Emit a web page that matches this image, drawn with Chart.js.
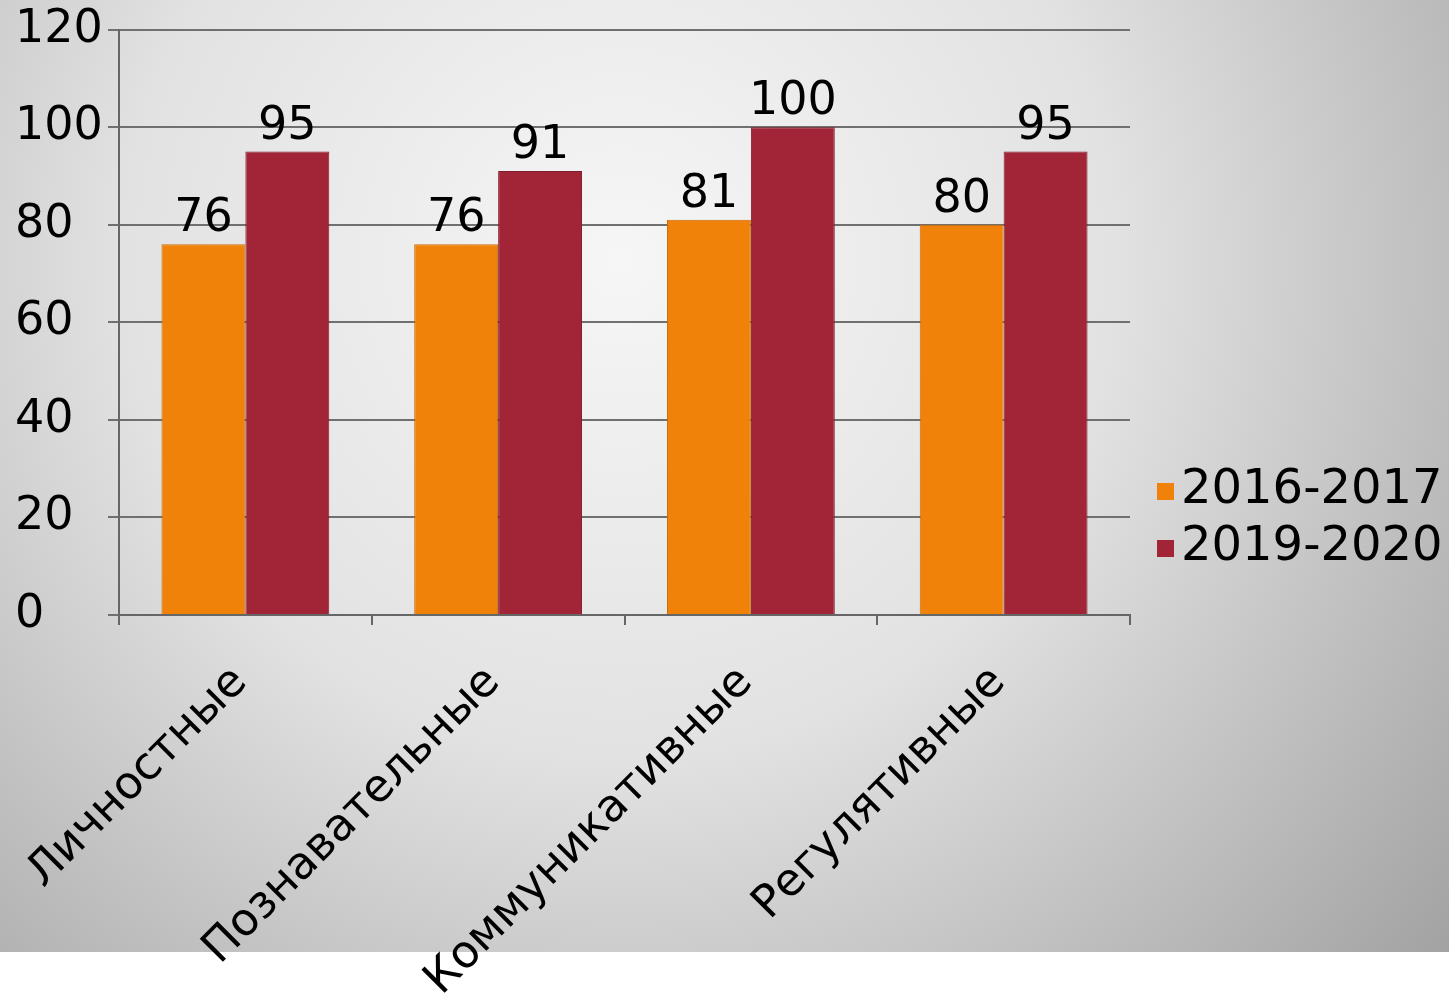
<!DOCTYPE html>
<html>
<head>
<meta charset="utf-8">
<script src="https://cdn.jsdelivr.net/npm/chart.js@4"></script>
<style>
    body { margin: 0; background: #ffffff; }
    #chart_side { width: 1449px; height: 1004px; }
</style>
</head>
<body>
<div id="chart_side"><canvas id="myChart" width="1449" height="1004"></canvas></div>
<script>

//chart data
const categories = ['Личностные', 'Познавательные', 'Коммуникативные', 'Регулятивные'];
const seriesNames = ['2016-2017', '2019-2020'];
const values2016 = [76, 76, 81, 80];
const values2020 = [95, 91, 100, 95];
const yTicks = [0, 20, 40, 60, 80, 100, 120];

const seriesColors = ['#F0820A', '#A12536'];
const seriesBorders = ['#C86A08', '#7E1C2A'];
const fontFamily = '"DejaVu Sans", Verdana, sans-serif';

//grey gradient behind the chart (ends above the bottom white strip)
const backgroundPlugin = {
    id: 'grayBackground',
    beforeDraw: function (chart) {
        const ctx = chart.ctx;
        const g = ctx.createRadialGradient(620, 260, 0, 620, 260, 1100);
        g.addColorStop(0, '#f6f6f6');
        g.addColorStop(0.45, '#e2e2e2');
        g.addColorStop(1, '#a0a0a0');
        ctx.save();
        ctx.fillStyle = '#ffffff';
        ctx.fillRect(0, 0, chart.width, chart.height);
        ctx.fillStyle = g;
        ctx.fillRect(0, 0, chart.width, 952);
        ctx.restore();
    }
};

//numbers over each bar
const valueLabelsPlugin = {
    id: 'valueLabels',
    afterDatasetsDraw: function (chart) {
        const ctx = chart.ctx;
        ctx.save();
        ctx.font = '46px ' + fontFamily;
        ctx.fillStyle = '#000000';
        ctx.textAlign = 'center';
        ctx.textBaseline = 'alphabetic';
        chart.data.datasets.forEach(function (ds, i) {
            chart.getDatasetMeta(i).data.forEach(function (bar, j) {
                ctx.fillText(String(ds.data[j]), bar.x, bar.y - 13);
            });
        });
        ctx.restore();
    }
};

//legend on the right side
const sideLegendPlugin = {
    id: 'sideLegend',
    afterDraw: function (chart) {
        const ctx = chart.ctx;
        ctx.save();
        ctx.font = '48px ' + fontFamily;
        ctx.textBaseline = 'middle';
        ctx.textAlign = 'left';
        chart.data.datasets.forEach(function (ds, i) {
            const cy = 491 + i * 57;
            ctx.fillStyle = ds.backgroundColor;
            ctx.fillRect(1157, cy - 8, 17, 17);
            ctx.fillStyle = '#000000';
            ctx.fillText(ds.label, 1181, cy);
        });
        ctx.restore();
    }
};

var ctx = document.getElementById('myChart').getContext('2d');

var myBarChart = new Chart(ctx, {
    type: 'bar',
    data: {
        labels: categories,
        datasets: [{
            label: seriesNames[0],
            data: values2016,
            backgroundColor: seriesColors[0],
            borderColor: seriesBorders[0],
            borderWidth: 1
        }, {
            label: seriesNames[1],
            data: values2020,
            backgroundColor: seriesColors[1],
            borderColor: seriesBorders[1],
            borderWidth: 1
        }]
    },
    options: {
        responsive: false,
        animation: false,
        devicePixelRatio: 1,
        layout: {padding: {left: 15, top: 24, right: 319, bottom: 0}},
        datasets: {bar: {categoryPercentage: 0.664, barPercentage: 1}},
        plugins: {
            legend: {display: false},
            tooltip: {enabled: false}
        },
        scales: {
            x: {
                afterFit: function (scale) {
                    scale.height = 389;
                    //rotated labels should not push the plot area
                    scale.paddingLeft = 0;
                    scale.paddingRight = 0;
                },
                grid: {
                    offset: true,
                    drawOnChartArea: false,
                    drawTicks: true,
                    tickLength: 10,
                    color: '#666666',
                    lineWidth: 2
                },
                border: {color: '#666666', width: 2},
                ticks: {
                    autoSkip: false,
                    minRotation: 45,
                    maxRotation: 45,
                    padding: 31,
                    labelOffset: -5,
                    color: '#000000',
                    font: {family: fontFamily, size: 45}
                }
            },
            y: {
                min: 0,
                max: 120,
                afterFit: function (scale) { scale.width = 104; },
                afterBuildTicks: function (scale) {
                    scale.ticks = yTicks.map(function (v) { return {value: v}; });
                },
                grid: {
                    color: '#707070',
                    lineWidth: 2,
                    tickLength: 11
                },
                border: {color: '#666666', width: 2},
                ticks: {
                    crossAlign: 'far',
                    padding: 2,
                    color: '#000000',
                    font: {family: fontFamily, size: 46}
                }
            }
        }
    },
    plugins: [backgroundPlugin, valueLabelsPlugin, sideLegendPlugin]
});
</script>
</body>
</html>
